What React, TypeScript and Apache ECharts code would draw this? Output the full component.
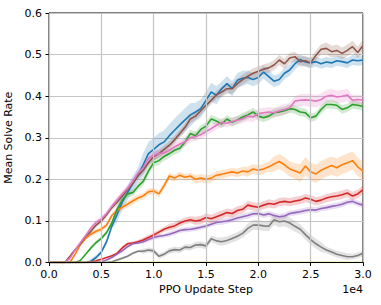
import React, { useEffect, useRef } from "react";
import * as echarts from "echarts";

// x positions in units of 1e4 PPO update steps (0.00 .. 3.00, every 0.05)
const steps: number[] = Array.from({ length: 61 }, (_, i) => +(i * 0.05).toFixed(2));

const blue = [0,0,0,0,0,0,0,0,0.003,0.012,0.025,0.05,0.087,0.115,0.145,0.168,0.19,0.21,0.235,0.262,0.272,0.283,0.29,0.305,0.318,0.331,0.343,0.355,0.362,0.37,0.39,0.41,0.402,0.418,0.43,0.418,0.438,0.443,0.445,0.44,0.445,0.458,0.447,0.436,0.44,0.455,0.463,0.478,0.488,0.482,0.48,0.483,0.478,0.482,0.48,0.485,0.483,0.48,0.487,0.485,0.487];
const orange = [0,0,0,0,0,0.02,0.043,0.058,0.068,0.075,0.08,0.09,0.113,0.125,0.133,0.14,0.148,0.155,0.16,0.17,0.172,0.165,0.185,0.208,0.203,0.21,0.205,0.208,0.2,0.203,0.2,0.203,0.21,0.212,0.215,0.218,0.215,0.22,0.218,0.225,0.222,0.225,0.23,0.237,0.243,0.235,0.225,0.22,0.215,0.232,0.218,0.213,0.222,0.228,0.233,0.228,0.235,0.24,0.245,0.23,0.22];
const green = [0,0,0,0,0,0,0.005,0.02,0.035,0.048,0.058,0.072,0.095,0.128,0.15,0.165,0.168,0.183,0.195,0.22,0.24,0.245,0.255,0.262,0.27,0.275,0.29,0.31,0.305,0.32,0.328,0.345,0.34,0.333,0.345,0.337,0.343,0.35,0.355,0.362,0.352,0.348,0.352,0.36,0.362,0.365,0.37,0.368,0.362,0.36,0.348,0.352,0.368,0.38,0.38,0.378,0.368,0.372,0.38,0.378,0.375];
const red = [0,0,0,0,0,0,0,0,0.001,0.004,0.008,0.012,0.016,0.022,0.035,0.045,0.047,0.05,0.054,0.06,0.066,0.073,0.08,0.085,0.088,0.095,0.1,0.103,0.1,0.102,0.108,0.105,0.11,0.115,0.12,0.118,0.125,0.128,0.138,0.135,0.133,0.138,0.142,0.14,0.145,0.147,0.145,0.148,0.15,0.155,0.152,0.147,0.15,0.155,0.158,0.16,0.163,0.167,0.16,0.165,0.175];
const purple = [0,0,0,0,0,0,0,0,0,0,0.002,0.006,0.012,0.02,0.028,0.038,0.045,0.047,0.05,0.055,0.06,0.063,0.065,0.068,0.072,0.077,0.079,0.08,0.082,0.085,0.088,0.092,0.096,0.098,0.1,0.103,0.107,0.11,0.113,0.117,0.118,0.114,0.117,0.113,0.11,0.112,0.118,0.12,0.122,0.125,0.127,0.126,0.13,0.132,0.135,0.137,0.14,0.145,0.147,0.142,0.138];
const brown = [0,0,0,0,0.015,0.031,0.045,0.063,0.075,0.09,0.1,0.115,0.132,0.145,0.16,0.175,0.19,0.208,0.222,0.24,0.255,0.262,0.272,0.282,0.295,0.31,0.325,0.345,0.352,0.365,0.378,0.39,0.403,0.41,0.418,0.418,0.43,0.44,0.448,0.455,0.46,0.465,0.468,0.475,0.487,0.478,0.492,0.495,0.483,0.485,0.48,0.498,0.513,0.515,0.507,0.51,0.503,0.51,0.519,0.505,0.522];
const pink = [0,0,0,0,0.01,0.03,0.048,0.065,0.083,0.097,0.105,0.118,0.135,0.15,0.165,0.178,0.195,0.215,0.228,0.25,0.258,0.262,0.263,0.27,0.278,0.285,0.29,0.3,0.303,0.307,0.315,0.322,0.33,0.337,0.335,0.339,0.342,0.345,0.352,0.35,0.358,0.36,0.362,0.36,0.365,0.368,0.372,0.388,0.39,0.391,0.39,0.388,0.392,0.4,0.402,0.398,0.4,0.403,0.39,0.392,0.39];
const gray = [0,0,0,0,0,0,0,0,0,0,0,0,0.002,0.006,0.01,0.015,0.022,0.027,0.027,0.03,0.028,0.015,0.02,0.028,0.031,0.03,0.037,0.036,0.042,0.043,0.04,0.057,0.052,0.05,0.053,0.058,0.063,0.07,0.082,0.09,0.09,0.088,0.087,0.103,0.098,0.1,0.095,0.087,0.08,0.067,0.055,0.045,0.037,0.03,0.025,0.02,0.017,0.014,0.014,0.017,0.022];
const olive = [0,0,0,0,0,0,0,0,0,0,0,0,0,0,0,0,0,0,0,0,0,0,0,0,0,0,0,0,0,0,0,0,0,0,0,0,0,0,0,0,0,0,0,0,0,0,0,0,0,0,0,0,0,0,0,0,0,0,0,0,0];

// half-width of the shaded band, sampled every 0.25 (x 1e4)
const blueBand = [0,0,0.006,0.018,0.028,0.028,0.022,0.018,0.016,0.014,0.012,0.012,0.012];
const orangeBand = [0,0.003,0.006,0.008,0.008,0.008,0.01,0.01,0.012,0.018,0.022,0.022,0.022];
const greenBand = [0,0,0.005,0.008,0.01,0.01,0.01,0.01,0.01,0.01,0.01,0.01,0.01];
const redBand = [0,0,0,0.004,0.006,0.008,0.01,0.01,0.01,0.01,0.01,0.01,0.01];
const purpleBand = [0,0,0,0.003,0.005,0.006,0.006,0.007,0.007,0.007,0.007,0.007,0.007];
const brownBand = [0,0,0.006,0.008,0.01,0.01,0.01,0.012,0.012,0.012,0.012,0.014,0.014];
const pinkBand = [0,0,0.006,0.008,0.01,0.01,0.01,0.01,0.012,0.012,0.015,0.015,0.012];
const grayBand = [0,0,0,0.003,0.006,0.007,0.008,0.01,0.012,0.013,0.012,0.008,0.007];
const oliveBand = [0,0,0,0,0,0,0,0,0,0,0,0,0];

const xTicks = ["0.0", "0.5", "1.0", "1.5", "2.0", "2.5", "3.0"];

const seriesDefs = [
  { name: "blue", values: blue, band: blueBand, color: "#1f77b4" },
  { name: "orange", values: orange, band: orangeBand, color: "#ff7f0e" },
  { name: "green", values: green, band: greenBand, color: "#2ca02c" },
  { name: "red", values: red, band: redBand, color: "#d62728" },
  { name: "purple", values: purple, band: purpleBand, color: "#9467bd" },
  { name: "brown", values: brown, band: brownBand, color: "#8c564b" },
  { name: "pink", values: pink, band: pinkBand, color: "#e377c2" },
  { name: "gray", values: gray, band: grayBand, color: "#7f7f7f" },
  { name: "olive", values: olive, band: oliveBand, color: "#bcbd22" },
];

const FONT = "DejaVu Sans";

export default function App() {
  const ref = useRef<HTMLDivElement>(null);
  useEffect(() => {
    if (!ref.current) return;
    const chart = echarts.init(ref.current, null, { renderer: "svg" });
    const series: any[] = [];

    // shaded bands (mean ± spread), drawn as polygons through the axes' scales
    series.push({
      type: "custom",
      name: "bands",
      silent: true,
      z: 1,
      data: seriesDefs.map((_, k) => [k]),
      renderItem: (params: any, api: any) => {
        const k = api.value(0);
        const d = seriesDefs[k];
        const upper: number[][] = [];
        const lower: number[][] = [];
        steps.forEach((x, i) => {
          const w = d.band[Math.round(x / 0.25)];
          upper.push(api.coord([x, d.values[i] + w]));
          lower.push(api.coord([x, Math.max(0, d.values[i] - w)]));
        });
        const points = upper.concat(lower.reverse());
        return {
          type: "polygon",
          shape: { points },
          style: { fill: d.color, opacity: 0.22 },
          clipPath: {
            type: "rect",
            shape: {
              x: params.coordSys.x,
              y: params.coordSys.y,
              width: params.coordSys.width,
              height: params.coordSys.height,
            },
          },
        };
      },
    });

    seriesDefs.forEach((d) => {
      series.push({
        type: "line",
        name: d.name,
        data: steps.map((x, i) => [x, d.values[i]]),
        symbol: "none",
        lineStyle: { color: d.color, width: 1.6 },
        z: 3,
      });
    });

    chart.setOption({
      animation: false,
      grid: {
        left: 49,
        right: 18,
        top: 13,
        bottom: 42.5,
        containLabel: false,
        outerBoundsMode: "none",
        show: true,
        borderColor: "#000",
        borderWidth: 1,
      },
      xAxis: {
        type: "value",
        min: 0,
        max: 3,
        interval: 0.5,
        z: 5,
        name: "PPO Update Step",
        nameLocation: "middle",
        nameGap: 21,
        nameTextStyle: { fontFamily: FONT, fontSize: 11, color: "#000" },
        axisLine: { show: true, lineStyle: { color: "#000", width: 1 } },
        axisTick: { show: true, inside: false, length: 3.5, lineStyle: { color: "#000" } },
        axisLabel: {
          fontFamily: FONT,
          fontSize: 11,
          color: "#000",
          margin: 6,
          formatter: (v: number) => xTicks[Math.round(v / 0.5)] ?? "",
        },
        splitLine: { show: true, lineStyle: { color: "#c4c4c4", width: 1.2 } },
      },
      yAxis: {
        type: "value",
        min: 0,
        max: 0.6,
        interval: 0.1,
        name: "Mean Solve Rate",
        nameLocation: "middle",
        nameGap: 28,
        nameTextStyle: { fontFamily: FONT, fontSize: 11, color: "#000" },
        axisLine: { show: true, lineStyle: { color: "#000", width: 1 } },
        axisTick: { show: true, inside: false, length: 3.5, lineStyle: { color: "#000" } },
        axisLabel: {
          fontFamily: FONT,
          fontSize: 11,
          color: "#000",
          margin: 7,
          formatter: (v: number) => v.toFixed(1),
        },
        splitLine: { show: true, lineStyle: { color: "#c4c4c4", width: 1.2 } },
      },
      graphic: [
        {
          type: "text",
          right: 18,
          top: 284,
          style: { text: "1e4", fontFamily: FONT, fontSize: 11, fill: "#000" },
        },
      ],
      series,
    });
    return () => chart.dispose();
  }, []);
  return (
    <div
      ref={ref}
      style={{ position: "fixed", left: 0, top: 0, width: 381, height: 305, background: "#fff" }}
    />
  );
}
